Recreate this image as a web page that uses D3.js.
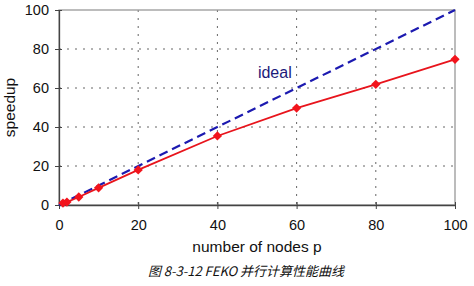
<!DOCTYPE html>
<html>
<head>
<meta charset="utf-8">
<script src="https://cdn.jsdelivr.net/npm/d3@7"></script>
<style>
body{margin:0;background:#fff;}
text{font-family:"Liberation Sans",Arial,sans-serif;}
</style>
</head>
<body>
<div class="canvas"></div>
<script>
const NODES=[1,2,5,10,20,40,60,80,100];
const SPEEDUP=[1,1.5,4.1,8.8,18,35.4,49.7,61.9,74.7];
const IDEAL=[0,100];
const X_TICKS=[0,20,40,60,80,100];
const Y_TICKS=[0,20,40,60,80,100];

const W=474,H=286;
const padL=59,padR=455,padT=10,padB=205;

const svg=d3.select(".canvas").append("svg")
  .attr("width",W).attr("height",H)
  .style("background-color","white");

const xScale=d3.scaleLinear().domain([0,100]).range([padL,padR]);
const yScale=d3.scaleLinear().domain([0,100]).range([padB,padT]);

// grid
svg.append("g").selectAll("line")
  .data(X_TICKS.slice(1,-1)).enter().append("line")
  .attr("x1",d=>xScale(d)).attr("x2",d=>xScale(d))
  .attr("y1",padT).attr("y2",padB)
  .attr("stroke","#666").attr("stroke-dasharray","2,6");
svg.append("g").selectAll("line")
  .data(Y_TICKS.slice(1,-1)).enter().append("line")
  .attr("y1",d=>yScale(d)).attr("y2",d=>yScale(d))
  .attr("x1",padL).attr("x2",padR)
  .attr("stroke","#666").attr("stroke-dasharray","2,6");

// frame
svg.append("rect").attr("x",padL).attr("y",padT)
  .attr("width",padR-padL).attr("height",padB-padT)
  .attr("fill","none").attr("stroke","#999").attr("stroke-width",1.3);

const xAxis=d3.axisBottom(xScale).tickValues(X_TICKS).tickSizeInner(4).tickSizeOuter(0).tickPadding(11);
const yAxis=d3.axisLeft(yScale).tickValues(Y_TICKS).tickSizeInner(4).tickSizeOuter(0).tickPadding(6);

const gx=svg.append("g").attr("transform",`translate(0,${padB})`).call(xAxis);
const gy=svg.append("g").attr("transform",`translate(${padL},0)`).call(yAxis);
[gx,gy].forEach(g=>{
  g.select(".domain").attr("stroke","#444").attr("stroke-width",1.3);
  g.selectAll(".tick line").attr("stroke","#444");
  g.selectAll(".tick text").attr("font-size",14.5).attr("fill","#111")
   .style("font-family","'Liberation Sans',Arial,sans-serif");
});
gx.selectAll(".tick line").attr("y1",-3);
gy.selectAll(".tick line").attr("x1",3);

// ideal line
const line=d3.line().x(d=>xScale(d[0])).y(d=>yScale(d[1]));
svg.append("path")
  .datum(IDEAL.map(v=>[v,v]))
  .attr("d",line).attr("fill","none")
  .attr("stroke","#1c1ab0").attr("stroke-width",2.2)
  .attr("stroke-dasharray","9,5");

// measured line
const data=NODES.map((n,i)=>[n,SPEEDUP[i]]);
svg.append("path").datum(data).attr("d",line)
  .attr("fill","none").attr("stroke","#e8141c").attr("stroke-width",1.8);
svg.append("g").selectAll("path").data(data).enter().append("path")
  .attr("d",d3.symbol().type(d3.symbolDiamond2).size(55))
  .attr("transform",d=>`translate(${xScale(d[0])},${yScale(d[1])})`)
  .attr("fill","#f2141c");

svg.append("text").attr("x",xScale(54.5)).attr("y",yScale(65))
  .attr("text-anchor","middle").attr("font-size",16).attr("fill","#1c1a7a")
  .text("ideal");

svg.append("text")
  .attr("transform",`translate(15,${(padT+padB)/2}) rotate(-90)`)
  .attr("text-anchor","middle").attr("font-size",15.5).attr("fill","#111")
  .text("speedup");

svg.append("text").attr("x",(padL+padR)/2).attr("y",252)
  .attr("text-anchor","middle").attr("font-size",15.5).attr("fill","#111")
  .text("number of nodes p");

svg.append("text").attr("x",246).attr("y",276)
  .attr("text-anchor","middle").attr("font-size",13).attr("fill","#111")
  .attr("font-style","italic")
  .style("font-family","'Noto Sans CJK SC',sans-serif")
  .text("图 8-3-12 FEKO 并行计算性能曲线");
</script>
</body>
</html>
